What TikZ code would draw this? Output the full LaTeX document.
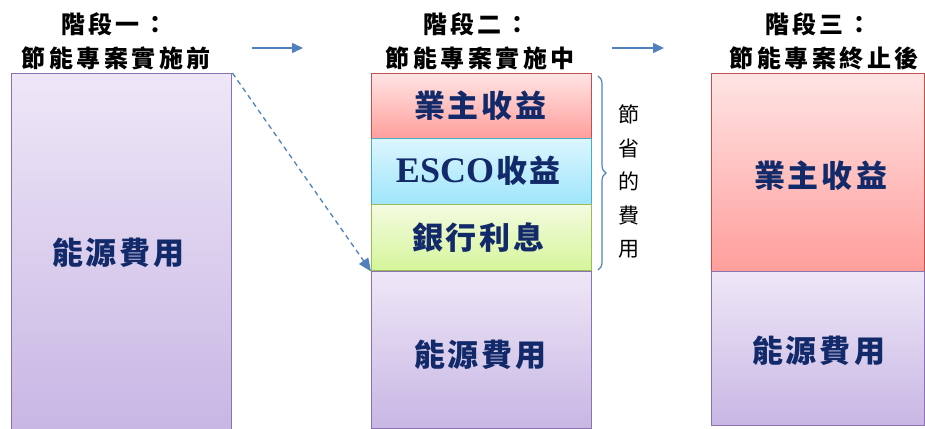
\documentclass[tikz,border=0pt]{standalone}
\usepackage{fontspec}
\setmainfont{Liberation Serif}
\newfontfamily\cjk{Noto Sans CJK TC}
\usetikzlibrary{arrows.meta,decorations.pathreplacing}
\definecolor{navy}{RGB}{18,42,105}
\definecolor{arrowblue}{RGB}{79,129,189}
\definecolor{purpleT}{RGB}{238,231,247}
\definecolor{purpleB}{RGB}{200,182,228}
\definecolor{purpleD}{RGB}{140,114,176}
\definecolor{redT}{RGB}{255,228,228}
\definecolor{redB}{RGB}{255,158,155}
\definecolor{redD}{RGB}{192,80,77}
\definecolor{cyanT}{RGB}{220,246,255}
\definecolor{cyanB}{RGB}{158,229,250}
\definecolor{cyanD}{RGB}{75,172,198}
\definecolor{greenT}{RGB}{244,251,224}
\definecolor{greenB}{RGB}{213,245,154}
\definecolor{greenD}{RGB}{155,187,89}
\newlength{\lsp}
\def\spaced#1{\spacedi#1\relax\hspace{-\lsp}}
\def\spacedi#1{\ifx#1\relax\else#1\hspace{\lsp}\expandafter\spacedi\fi}
\begin{document}
\begin{tikzpicture}[x=1pt,y=-1pt,
  blk/.style={draw, line width=1.4pt, anchor=north west, inner sep=0pt, minimum width=220pt},
  pblk/.style={blk, draw=purpleD, top color=purpleT, bottom color=purpleB},
  rblk/.style={blk, draw=redD, top color=redT, bottom color=redB},
  cblk/.style={blk, draw=cyanD, top color=cyanT, bottom color=cyanB},
  gblk/.style={blk, draw=greenD, top color=greenT, bottom color=greenB},
  lbl/.style={inner sep=0pt, text=navy, font=\fontsize{31}{33}\selectfont\cjk\bfseries\setlength{\lsp}{3pt}},
  ttl/.style={inner sep=0pt, text=black, font=\fontsize{24}{26}\selectfont\cjk\bfseries\setlength{\lsp}{3.5pt}},
  flow/.style={draw=arrowblue, line width=1.5pt, -{Triangle[length=11pt,width=10pt]}}
]
\useasboundingbox (0,0) rectangle (925,428);

% titles
\node[ttl] (t1a) at (116,24) {\spaced{階段一：}};
\node[ttl] (t1b) at (118,58) {\spaced{節能專案實施前}};
\node[ttl] (t2a) at (478,24) {\spaced{階段二：}};
\node[ttl] (t2b) at (482,58) {\spaced{節能專案實施中}};
\node[ttl] (t3a) at (820,24) {\spaced{階段三：}};
\node[ttl] (t3b) at (826,58) {\spaced{節能專案終止後}};

% column 1
\node[pblk, minimum height=356pt] (b1) at (11,73) {};
\node[lbl] (l1) at (120,253) {\spaced{能源費用}};

% column 2
\node[rblk, minimum height=65pt] (r2) at (371,73) {};
\node[cblk, minimum height=66pt] (c2) at (371,138) {};
\node[gblk, minimum height=66pt] (g2) at (371,204) {};
\node[pblk, minimum height=157pt] (p2) at (371,271) {};
\node[lbl] (l2a) at (482,106) {\spaced{業主收益}};
\node[lbl] (l2b) at (480,171) {{\fontsize{36}{36}\selectfont\rmfamily\bfseries ESCO}\hspace{2pt}\spaced{收益}};
\node[lbl] (l2c) at (480,238) {\spaced{銀行利息}};
\node[lbl] (l2d) at (482,355) {\spaced{能源費用}};

% column 3
\node[rblk, minimum width=213pt, minimum height=198pt] (r3) at (711,73) {};
\node[pblk, minimum width=213pt, minimum height=154pt] (p3) at (711,271) {};
\node[lbl] (l3a) at (822,176) {\spaced{業主收益}};
\node[lbl] (l3b) at (820,351) {\spaced{能源費用}};

% brace and vertical text
\coordinate (bt) at (598,76);
\coordinate (bb) at (598,270);
\draw[arrowblue, line width=1.2pt, decoration={brace, amplitude=8pt}, decorate] (bt) -- (bb);
\node[inner sep=0pt, align=center, font=\fontsize{21}{33.5}\selectfont\cjk] (sv) at (629,182) {節\\省\\的\\費\\用};

% flow arrows
\coordinate (a1s) at (252,48);
\coordinate (a1e) at (303,48);
\coordinate (a2s) at (612,48);
\coordinate (a2e) at (664,48);
\draw[flow] (a1s) -- (a1e);
\draw[flow] (a2s) -- (a2e);
\draw[arrowblue, line width=1.3pt, dash pattern=on 5pt off 4pt, -{Triangle[length=13pt,width=11pt]}] (b1.north east) -- (g2.south west);
\end{tikzpicture}
\end{document}
